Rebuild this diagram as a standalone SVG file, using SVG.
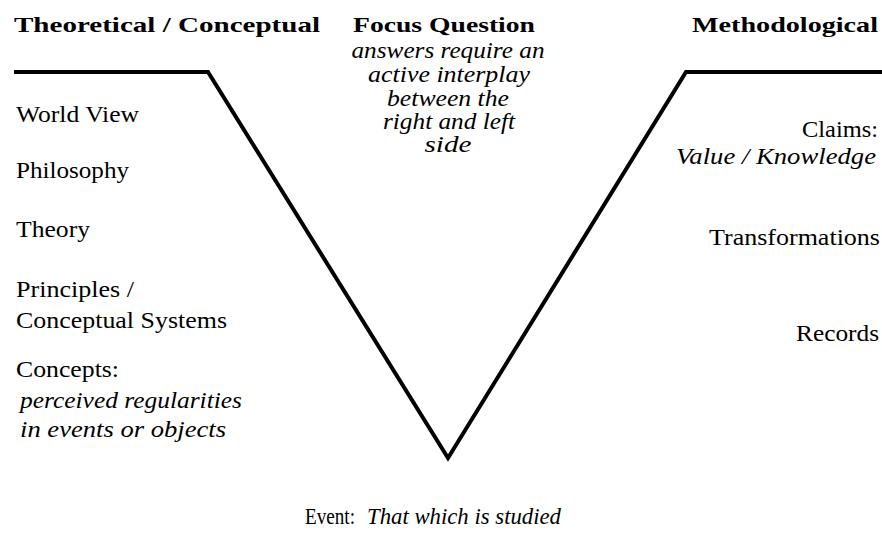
<svg xmlns="http://www.w3.org/2000/svg" width="882" height="540" viewBox="0 0 882 540">
<style>
text{font-family:'Liberation Serif','Times New Roman','DejaVu Serif',serif;font-size:23px;fill:#000}
.b{font-weight:bold;font-size:22px}
.i{font-style:italic}
.m{text-anchor:middle}
.e{text-anchor:end}
</style>
<rect width="882" height="540" fill="#fff"/>
<g id="connectors">
<path d="M14,72 H208 L448,458 L686,72 H882" fill="none" stroke="#000" stroke-width="4" stroke-linejoin="miter"/>
</g>
<g id="header-left"><text class="b" x="14" y="32" textLength="306" lengthAdjust="spacingAndGlyphs">Theoretical / Conceptual</text></g>
<g id="focus-question">
<text class="b" x="353" y="32" textLength="182" lengthAdjust="spacingAndGlyphs">Focus Question</text>
<text class="i m" x="448" y="58" textLength="193" lengthAdjust="spacingAndGlyphs">answers require an</text>
<text class="i m" x="449" y="82" textLength="162" lengthAdjust="spacingAndGlyphs">active interplay</text>
<text class="i m" x="448" y="106" textLength="122" lengthAdjust="spacingAndGlyphs">between the</text>
<text class="i m" x="449" y="129" textLength="132" lengthAdjust="spacingAndGlyphs">right and left</text>
<text class="i m" x="448" y="152" textLength="47" lengthAdjust="spacingAndGlyphs">side</text>
</g>
<g id="header-right"><text class="b e" x="878" y="32" textLength="186" lengthAdjust="spacingAndGlyphs">Methodological</text></g>
<g id="world-view"><text x="16" y="122" textLength="123" lengthAdjust="spacingAndGlyphs">World View</text></g>
<g id="philosophy"><text x="16" y="178" textLength="113" lengthAdjust="spacingAndGlyphs">Philosophy</text></g>
<g id="theory"><text x="16" y="237" textLength="74" lengthAdjust="spacingAndGlyphs">Theory</text></g>
<g id="principles"><text x="16" y="297" textLength="118" lengthAdjust="spacingAndGlyphs">Principles /</text><text x="16" y="328" textLength="211" lengthAdjust="spacingAndGlyphs">Conceptual Systems</text></g>
<g id="concepts"><text x="16" y="377" textLength="103" lengthAdjust="spacingAndGlyphs">Concepts:</text><text class="i" x="20" y="408" textLength="222" lengthAdjust="spacingAndGlyphs">perceived regularities</text><text class="i" x="20" y="437" textLength="206" lengthAdjust="spacingAndGlyphs">in events or objects</text></g>
<g id="claims"><text class="e" x="878" y="137" textLength="76" lengthAdjust="spacingAndGlyphs">Claims:</text><text class="i e" x="876" y="164" textLength="200" lengthAdjust="spacingAndGlyphs">Value / Knowledge</text></g>
<g id="transformations"><text class="e" x="880" y="245" textLength="171" lengthAdjust="spacingAndGlyphs">Transformations</text></g>
<g id="records"><text class="e" x="879" y="341" textLength="83" lengthAdjust="spacingAndGlyphs">Records</text></g>
<g id="event"><text x="305" y="524" textLength="50" lengthAdjust="spacingAndGlyphs">Event:</text><text class="i" x="367" y="524" textLength="194" lengthAdjust="spacingAndGlyphs">That which is studied</text></g>
</svg>
